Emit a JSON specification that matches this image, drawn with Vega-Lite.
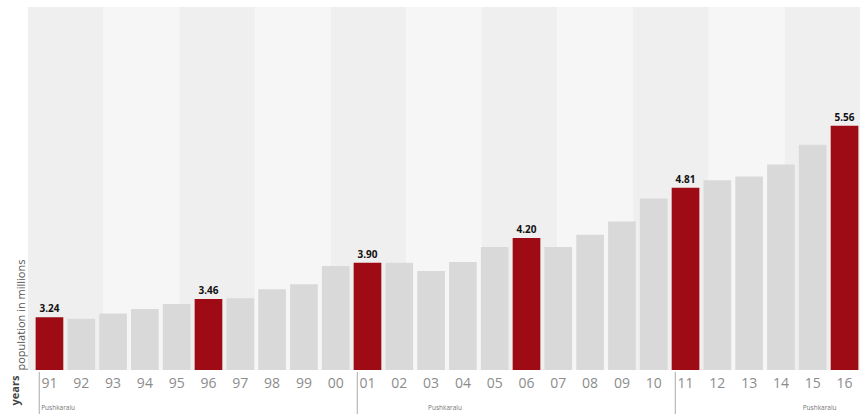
{
  "$schema": "https://vega.github.io/schema/vega-lite/v6.json",
  "autosize": "none",
  "width": 832,
  "height": 363,
  "padding": {"left": 28, "top": 7, "right": 0, "bottom": 44},
  "background": "#ffffff",
  "config": {"view": {"stroke": null}, "font": "Open Sans"},
  "layer": [
    {
      "data": {"values": [
        {"b0": 0, "b1": 1, "shade": "dark"},
        {"b0": 1, "b1": 2, "shade": "light"},
        {"b0": 2, "b1": 3, "shade": "dark"},
        {"b0": 3, "b1": 4, "shade": "light"},
        {"b0": 4, "b1": 5, "shade": "dark"},
        {"b0": 5, "b1": 6, "shade": "light"},
        {"b0": 6, "b1": 7, "shade": "dark"},
        {"b0": 7, "b1": 8, "shade": "light"},
        {"b0": 8, "b1": 9, "shade": "dark"},
        {"b0": 9, "b1": 10, "shade": "light"},
        {"b0": 10, "b1": 11, "shade": "dark"}
      ]},
      "mark": {"type": "rect"},
      "encoding": {
        "x": {"field": "b0", "type": "quantitative", "scale": {"domain": [0, 11], "nice": false, "zero": false}, "axis": null},
        "x2": {"field": "b1"},
        "color": {"field": "shade", "type": "nominal", "scale": {"domain": ["dark", "light"], "range": ["#efefef", "#f6f6f6"]}, "legend": null}
      }
    },
    {
      "data": {"values": [
        {"year": "91", "value": 3.24, "highlight": true, "note": "Pushkaralu"},
        {"year": "92", "value": 3.22, "highlight": false, "note": null},
        {"year": "93", "value": 3.285, "highlight": false, "note": null},
        {"year": "94", "value": 3.34, "highlight": false, "note": null},
        {"year": "95", "value": 3.40, "highlight": false, "note": null},
        {"year": "96", "value": 3.46, "highlight": true, "note": null},
        {"year": "97", "value": 3.47, "highlight": false, "note": null},
        {"year": "98", "value": 3.58, "highlight": false, "note": null},
        {"year": "99", "value": 3.64, "highlight": false, "note": null},
        {"year": "00", "value": 3.86, "highlight": false, "note": null},
        {"year": "01", "value": 3.90, "highlight": true, "note": null},
        {"year": "02", "value": 3.90, "highlight": false, "note": null},
        {"year": "03", "value": 3.80, "highlight": false, "note": "Pushkaralu"},
        {"year": "04", "value": 3.91, "highlight": false, "note": null},
        {"year": "05", "value": 4.09, "highlight": false, "note": null},
        {"year": "06", "value": 4.20, "highlight": true, "note": null},
        {"year": "07", "value": 4.09, "highlight": false, "note": null},
        {"year": "08", "value": 4.24, "highlight": false, "note": null},
        {"year": "09", "value": 4.40, "highlight": false, "note": null},
        {"year": "10", "value": 4.68, "highlight": false, "note": null},
        {"year": "11", "value": 4.81, "highlight": true, "note": null},
        {"year": "12", "value": 4.90, "highlight": false, "note": null},
        {"year": "13", "value": 4.945, "highlight": false, "note": null},
        {"year": "14", "value": 5.09, "highlight": false, "note": null},
        {"year": "15", "value": 5.33, "highlight": false, "note": "Pushkaralu"},
        {"year": "16", "value": 5.56, "highlight": true, "note": null}
      ]},
      "encoding": {
        "x": {
          "field": "year", "type": "nominal", "sort": null,
          "scale": {"domain": ["91","92","93","94","95","96","97","98","99","00","01","02","03","04","05","06","07","08","09","10","11","12","13","14","15","16"], "range": [0, 838], "paddingInner": 0.13, "paddingOuter": 0.24},
          "axis": {
            "title": "years", "titleAngle": -90, "titleX": -13, "titleY": 20, "titleAlign": "center", "titleBaseline": "middle",
            "titleFontSize": 11, "titleFontWeight": "bold", "titleColor": "#444", "titleFont": "Open Sans",
            "labelAngle": 0, "labelFontSize": 14, "labelColor": "#8c8c8c", "labelFont": "Open Sans", "labelPadding": 6,
            "ticks": false, "domain": false, "grid": false
          }
        },
        "y": {
          "field": "value", "type": "quantitative",
          "scale": {"domain": [2.6, 7.0], "zero": false, "nice": false},
          "axis": {
            "title": "population in millions", "titleAngle": -90, "titleX": -2, "titleY": 363, "titleAlign": "left", "titleBaseline": "bottom",
            "titleFontSize": 11, "titleFontWeight": "normal", "titleColor": "#555", "titleFont": "Open Sans",
            "labels": false, "ticks": false, "domain": false, "grid": false
          }
        }
      },
      "layer": [
        {
          "mark": {"type": "bar", "clip": true},
          "encoding": {
            "y2": {"datum": 2.6},
            "color": {"condition": {"test": "datum.highlight", "value": "#9e0b14"}, "value": "#d9d9d9"}
          }
        },
        {
          "transform": [{"filter": "datum.highlight"}],
          "mark": {"type": "text", "baseline": "alphabetic", "dy": -5, "fontSize": 10, "fontWeight": "bold", "color": "#111", "font": "Open Sans"},
          "encoding": {"text": {"field": "value", "type": "quantitative", "format": ".2f"}}
        },
        {
          "transform": [{"filter": "datum.year == '91' || datum.year == '01' || datum.year == '11'"}],
          "mark": {"type": "rule", "color": "#aaaaaa", "strokeWidth": 1},
          "encoding": {
            "x": {"field": "year", "type": "nominal", "bandPosition": 0.13},
            "y": {"datum": 2.576},
            "y2": {"datum": 2.06}
          }
        },
        {
          "transform": [{"filter": "datum.year == '91'"}],
          "mark": {"type": "text", "align": "left", "baseline": "alphabetic", "fontSize": 6.5, "color": "#777", "font": "Open Sans"},
          "encoding": {
            "x": {"field": "year", "type": "nominal", "bandPosition": 0.2},
            "y": {"datum": 2.12},
            "text": {"field": "note"}
          }
        },
        {
          "transform": [{"filter": "datum.year == '03'"}],
          "mark": {"type": "text", "align": "center", "baseline": "alphabetic", "fontSize": 6.5, "color": "#777", "font": "Open Sans"},
          "encoding": {
            "x": {"field": "year", "type": "nominal", "bandPosition": 1},
            "y": {"datum": 2.12},
            "text": {"field": "note"}
          }
        },
        {
          "transform": [{"filter": "datum.year == '15'"}],
          "mark": {"type": "text", "align": "center", "baseline": "alphabetic", "fontSize": 6.5, "color": "#777", "font": "Open Sans"},
          "encoding": {
            "x": {"field": "year", "type": "nominal", "bandPosition": 0.75},
            "y": {"datum": 2.12},
            "text": {"field": "note"}
          }
        }
      ]
    }
  ],
  "resolve": {"scale": {"x": "independent"}, "axis": {"x": "independent"}}
}
